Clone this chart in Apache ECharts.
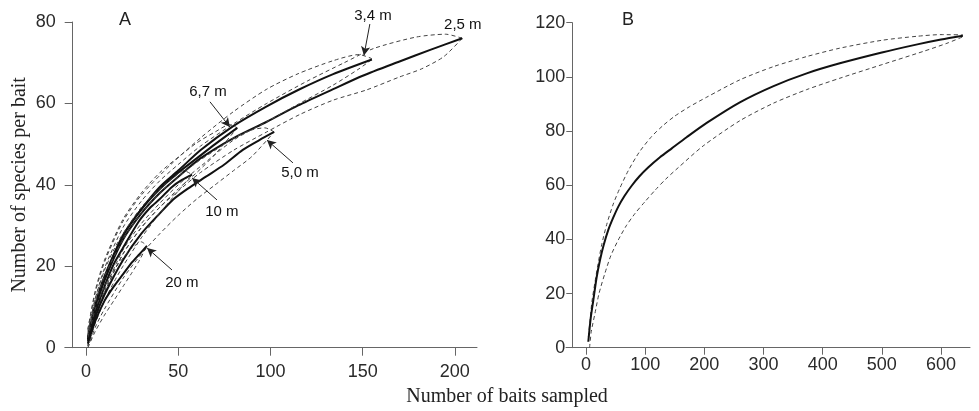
<!DOCTYPE html>
<html>
<head>
<meta charset="utf-8">
<script src="https://cdn.jsdelivr.net/npm/echarts@6/dist/echarts.min.js"></script>
</head>
<body style="margin:0">
<div id="container" style="width:979px;height:411px"></div>
<script>
// Panel A: rarefaction curves per depth, points are [baits, species]
var s25 = [[1,2],[5,9.5],[10,16.5],[20,26.5],[30,33],[40,38],[50,42],[62,46.5],[80,51.5],[98,55.5],[115,59.5],[134,63.5],[150,66.8],[170,70.3],[187,73.2],[204,76]];
var u25 = [[1,3.5],[5,12],[10,19.5],[20,29.5],[30,36],[40,41],[50,45],[62,49.5],[80,55],[98,60],[120,65.5],[140,70],[156,73.5],[179,76.3],[195,77],[204,76]];
var l25 = [[1,0.5],[5,7],[10,13.5],[20,23],[30,29.5],[40,34.5],[50,38.5],[62,43],[80,48.5],[98,53],[116,57.3],[134,60.8],[152,63.3],[170,66.5],[182,68.5],[194,71.5],[204,76]];

var s34 = [[1,2],[5,10],[10,17],[20,27.5],[30,34],[40,39.5],[50,43.5],[62,48.5],[80,54.5],[98,59.3],[115,63.3],[134,67.2],[155,70.8]];
var u34 = [[1,4.5],[5,13.5],[10,21],[20,31],[30,37.5],[46,45],[62,51.5],[80,58],[98,63.5],[115,67.3],[134,70.5],[148,72],[155,71]];
var l34 = [[1,1],[5,7.5],[10,14],[20,24],[30,30.5],[40,35.5],[50,40],[62,44.5],[80,51],[98,55.5],[115,59.8],[134,64.5],[148,68.5],[155,70.8]];

var s67 = [[1,2.5],[5,10.5],[10,17.5],[20,27.5],[30,34],[40,39],[50,43],[60,46.5],[70,50],[82,54]];
var u67 = [[1,4.5],[5,14],[10,21.5],[20,31.5],[30,38],[40,43],[50,46.8],[60,50.3],[70,53],[78,54.8],[82,54]];
var l67 = [[1,0.5],[5,7],[10,13.5],[20,23],[30,29.5],[40,34.5],[50,39],[60,43],[70,47.5],[82,54]];

var s50 = [[1,1.5],[5,7.5],[10,13],[20,21.5],[30,28],[40,33],[47,36.3],[55,39],[65,42],[75,45],[85,48.6],[94,51],[102,53]];
var u50 = [[1,3],[5,11],[10,17.5],[20,26.5],[30,33],[40,38],[50,42],[60,45.5],[70,48.5],[80,51.5],[90,53.5],[97,54],[102,53]];
var l50 = [[1,0],[5,5],[10,9.5],[20,17],[30,23],[40,28],[50,32.5],[60,36.5],[70,40],[80,43.5],[90,47],[102,53]];

var s10 = [[1,2],[5,8.5],[10,15],[15,20.5],[20,24.5],[28.6,31],[35,34.5],[40,36.5],[46.6,39.5],[52,41.2],[57.5,42.5]];
var u10 = [[1,4],[5,12],[10,19],[15,24],[20,28],[30,34.5],[40,39],[48,42],[53,43.5],[57.5,42.5]];
var l10 = [[1,0.5],[5,6],[10,11.5],[15,16],[20,20],[30,27],[40,33],[50,38.5],[57.5,42.5]];

var s20 = [[1,1],[5,6.5],[10,11.5],[15,15],[20,18],[25,21],[29,23],[33,25]];
var u20 = [[1,2.5],[5,9.5],[10,15],[15,19],[20,22],[25,24.5],[30,26],[33,25]];
var l20 = [[1,0],[5,4],[10,8],[15,11.5],[20,15],[25,18.5],[29,21.5],[33,25]];

// Panel B: all depths pooled
var sAll = [[3.9,2.2],[8,11],[12.4,17.6],[18,26],[23.7,32.4],[30,38],[37.7,43.5],[46,48],[54.6,52.1],[65,56],[77.2,59.8],[90,63.2],[105,66.5],[125,70.3],[145,73.6],[170,77.7],[204,83],[260,90.6],[317,96.6],[373,101.3],[429,105],[500,109],[560,112],[600,113.8],[637,115.2]];
var uAll = [[4,4],[6.8,10],[10,17],[15,24],[20,30.5],[26.5,38],[35,45.5],[46,53],[57,58.8],[71.5,65.4],[90,72.2],[111,78],[130,82],[150,85.5],[175,89],[204,92.5],[260,98.9],[317,103.8],[373,107.5],[429,110.6],[500,113.5],[560,115],[600,115.6],[637,115.5]];
var lAll = [[6,0],[9,6],[15.2,12.7],[22,20],[32,27.5],[42,34],[54.6,39.8],[68,45],[83,49.6],[100,54],[117,58.2],[135,62.3],[156,66.5],[198,74.5],[260,83.8],[317,90.3],[373,95.3],[429,99.5],[500,104.5],[570,109.4],[610,112.4],[637,114.8]];

var ticksA = [0, 50, 100, 150, 200];
var ticksB = [0, 100, 200, 300, 400, 500, 600];

// depth labels with their arrows, in data units of panel A
var notes = [
    { text: '3,4 m', at: [155.6, 81.5], from: [153.9, 79.5], to: [150.7, 71.8] },
    { text: '2,5 m', at: [204.3, 79.2] },
    { text: '6,7 m', at: [66.1, 62.8], from: [67.2, 60.4], to: [78, 54.2] },
    { text: '5,0 m', at: [116, 42.9], from: [112.2, 45.4], to: [98.1, 51] },
    { text: '10 m', at: [73.7, 33.3], from: [71, 36.3], to: [57.5, 41.7] },
    { text: '20 m', at: [52, 15.9], from: [46.6, 19.1], to: [33.1, 24.5] }
];

function curve(data, idx, dashed) {
    return {
        type: 'line', xAxisIndex: idx, yAxisIndex: idx, data: data,
        smooth: 0.25, symbol: 'none', silent: true, clip: false,
        lineStyle: dashed ? { color: '#444', width: 1, type: [4, 3] } : { color: '#111', width: 2 }
    };
}

var axisLine = { onZero: false, lineStyle: { color: '#666', width: 1 } };
var labelFont = { fontFamily: 'Liberation Sans', fontSize: 18, color: '#2a2a2a' };

var series = [];
[[s25, u25, l25], [s34, u34, l34], [s67, u67, l67], [s50, u50, l50], [s10, u10, l10], [s20, u20, l20]].forEach(function (c) {
    series.push(curve(c[1], 0, true), curve(c[2], 0, true), curve(c[0], 0, false));
});
series.push(curve(uAll, 1, true), curve(lAll, 1, true), curve(sAll, 1, false));

// arrows ride on the 2,5 m curve
series[2].markLine = {
    silent: true, animation: false,
    symbol: ['none', 'arrow'], symbolSize: [7, 9],
    lineStyle: { color: '#222', width: 1, type: 'solid' },
    label: { show: false },
    data: notes.filter(function (n) { return n.from; }).map(function (n) {
        return [{ coord: n.from }, { coord: n.to }];
    })
};

var chart = echarts.init(document.getElementById('container'));
chart.setOption({
    animation: false,
    backgroundColor: '#fff',
    title: [
        { text: 'A', left: 114, top: 6, textStyle: { fontFamily: 'Liberation Sans', fontSize: 18, fontWeight: 'normal', color: '#222' } },
        { text: 'B', left: 617, top: 6, textStyle: { fontFamily: 'Liberation Sans', fontSize: 18, fontWeight: 'normal', color: '#222' } }
    ],
    grid: [
        { left: 65, right: 502, top: 22, bottom: 63.3 },
        { left: 566, right: 9, top: 22.7, bottom: 63.3 }
    ],
    xAxis: [
        {
            type: 'value', gridIndex: 0, min: -11.4, max: 212,
            axisLine: axisLine, splitLine: { show: false },
            axisTick: { length: 8, lineStyle: { color: '#666' }, customValues: ticksA },
            axisLabel: Object.assign({ margin: 15, customValues: ticksA }, labelFont)
        },
        {
            type: 'value', gridIndex: 1, min: -33.8, max: 649,
            axisLine: axisLine, splitLine: { show: false },
            axisTick: { length: 7, lineStyle: { color: '#666' }, customValues: ticksB },
            axisLabel: Object.assign({ margin: 8, customValues: ticksB }, labelFont)
        }
    ],
    yAxis: [
        {
            type: 'value', gridIndex: 0, min: 0, max: 80, interval: 20, offset: -7.7,
            axisLine: axisLine, splitLine: { show: false },
            axisTick: { length: 8, lineStyle: { color: '#666' } },
            axisLabel: Object.assign({ margin: 17 }, labelFont),
            name: 'Number of species per bait', nameLocation: 'middle', nameGap: 43,
            nameTextStyle: { fontFamily: 'Liberation Serif', fontSize: 20, color: '#222' }
        },
        {
            type: 'value', gridIndex: 1, min: 0, max: 120, interval: 20, offset: -6.3,
            axisLine: axisLine, splitLine: { show: false },
            axisTick: { length: 6, lineStyle: { color: '#666' } },
            axisLabel: Object.assign({ margin: 7 }, labelFont)
        }
    ],
    series: series
});

// depth labels and the shared x title
var texts = notes.map(function (n) {
    var p = chart.convertToPixel({ xAxisIndex: 0, yAxisIndex: 0 }, n.at);
    return {
        type: 'text', x: p[0], y: p[1], silent: true,
        style: { text: n.text, align: 'center', verticalAlign: 'middle', font: '15px "Liberation Sans"', fill: '#111' }
    };
});
texts.push({
    type: 'text', x: 507, y: 397, silent: true,
    style: { text: 'Number of baits sampled', align: 'center', verticalAlign: 'middle', font: '20px "Liberation Serif"', fill: '#222' }
});
chart.setOption({ graphic: texts });
</script>
</body>
</html>
